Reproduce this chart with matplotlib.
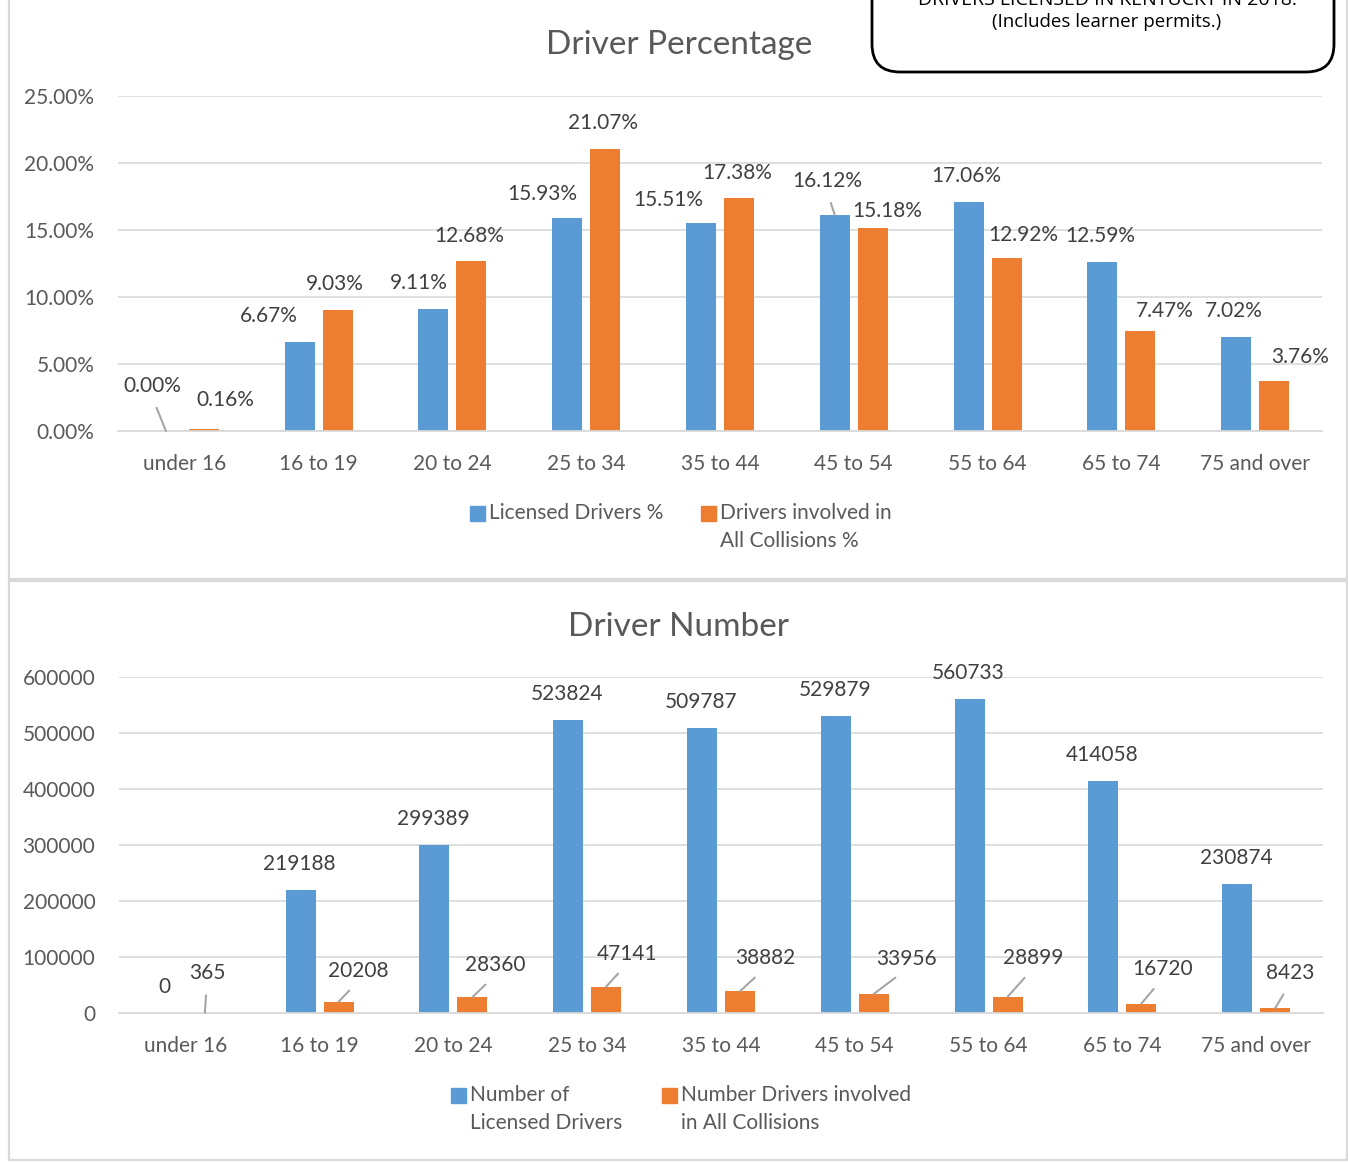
import matplotlib
matplotlib.use("Agg")
import matplotlib.pyplot as plt
import numpy as np
from matplotlib.patches import Rectangle, FancyBboxPatch

# ---------------- data ----------------
categories = ["under 16", "16 to 19", "20 to 24", "25 to 34", "35 to 44",
              "45 to 54", "55 to 64", "65 to 74", "75 and over"]
licensed_pct = [0.00, 6.67, 9.11, 15.93, 15.51, 16.12, 17.06, 12.59, 7.02]
collision_pct = [0.16, 9.03, 12.68, 21.07, 17.38, 15.18, 12.92, 7.47, 3.76]
licensed_num = [0, 219188, 299389, 523824, 509787, 529879, 560733, 414058, 230874]
collision_num = [365, 20208, 28360, 47141, 38882, 33956, 28899, 16720, 8423]
pct_ticks = [0, 5, 10, 15, 20, 25]
num_ticks = [0, 100000, 200000, 300000, 400000, 500000, 600000]

# label offsets (pixels) relative to bar top: (dx, dy, leader)
top_blue_off = [(-14, 45, True), (-31, 26, False), (-15, 26, False), (-25, 24, False),
                (-33, 23, False), (-8, 34, True), (-2, 26, False), (-2, 26, False), (-2, 26, False)]
top_orng_off = [(21, 29, False), (-3, 26, False), (-2, 25, False), (-2, 26, False),
                (-2, 25, False), (14, 17, False), (17, 23, False), (24, 20, False), (26, 24, False)]
bot_blue_off = [(-2, 26, False)] + [(-1, 26, False)] * 8
bot_orng_off = [(2, 40, True), (20, 31, True), (23, 32, True), (21, 33, True), (25, 33, True),
                (33, 35, True), (26, 39, True), (21, 35, True), (15, 35, True)]

BLUE = "#5B9BD5"
ORANGE = "#ED7D31"
GRID = "#D9D9D9"
TICK = "#595959"
LABEL = "#404040"
FONT = "Lato"
FS = 15

W, H = 1348, 1163
fig = plt.figure(figsize=(W / 100, H / 100), dpi=100)
fig.patch.set_facecolor("white")


def frac(x0, y0, x1, y1):
    """pixel box (top-left origin) -> figure fraction rect"""
    return [x0 / W, 1 - y1 / H, (x1 - x0) / W, (y1 - y0) / H]


x = np.arange(len(categories))
bw = 0.225
off = 0.142


def draw(ax, blue, orng, ylim, ticks, fmt, blue_off, orng_off):
    ax.set_xlim(-0.5, len(categories) - 0.5)
    ax.set_ylim(*ylim)
    ax.bar(x - off, blue, bw, color=BLUE, zorder=3)
    ax.bar(x + off, orng, bw, color=ORANGE, zorder=3)
    ax.set_yticks(ticks)
    ax.set_yticklabels([fmt(t) for t in ticks])
    ax.set_xticks(x)
    ax.set_xticklabels(categories)
    ax.tick_params(axis="both", length=0, labelsize=FS, labelcolor=TICK)
    ax.tick_params(axis="y", pad=17)
    ax.tick_params(axis="x", pad=16.5)
    for lab in ax.get_xticklabels() + ax.get_yticklabels():
        lab.set_fontfamily(FONT)
    ax.grid(axis="y", color=GRID, lw=1.2, zorder=0)
    ax.set_axisbelow(True)
    for s in ["top", "right", "left"]:
        ax.spines[s].set_visible(False)
    ax.spines["bottom"].set_color(GRID)
    ax.spines["bottom"].set_linewidth(1.3)
    ax.spines["bottom"].set_zorder(4)
    for vals, offs, xs in [(blue, blue_off, x - off), (orng, orng_off, x + off)]:
        for xi, v, (dx, dy, lead) in zip(xs, vals, offs):
            kw = dict(xy=(xi, v), xytext=(dx, dy), textcoords="offset pixels",
                      ha="center", va="center", fontsize=FS, color=LABEL,
                      fontfamily=FONT, annotation_clip=False, zorder=5)
            if lead:
                kw["arrowprops"] = dict(arrowstyle="-", color="#A6A6A6", lw=1.5,
                                        relpos=(0.5, 0.0), shrinkA=7, shrinkB=0)
            ax.annotate(fmt(v), **kw)


ax1 = fig.add_axes(frac(118, 96, 1322, 431))
draw(ax1, licensed_pct, collision_pct, (0, 25), pct_ticks, lambda v: f"{v:.2f}%",
     top_blue_off, top_orng_off)

ax2 = fig.add_axes(frac(119, 677, 1323, 1013))
draw(ax2, licensed_num, collision_num, (0, 600000), num_ticks, lambda v: f"{int(v)}",
     bot_blue_off, bot_orng_off)

# overlay in pixel coordinates for frames, titles, legends, note box
ov = fig.add_axes([0, 0, 1, 1], zorder=10)
ov.set_xlim(0, W)
ov.set_ylim(H, 0)
ov.axis("off")
ov.patch.set_visible(False)

ov.add_patch(Rectangle((9, -10), 1338, 589, fill=False, ec=GRID, lw=1.6))
ov.add_patch(Rectangle((9, 581), 1338, 579, fill=False, ec=GRID, lw=1.6))

ov.text(679, 45, "Driver Percentage", ha="center", va="center", fontsize=24,
        color=TICK, fontfamily=FONT)
ov.text(679, 627, "Driver Number", ha="center", va="center", fontsize=24,
        color=TICK, fontfamily=FONT)

# note box (partly cut at top, as in the source image)
ov.add_patch(FancyBboxPatch((872, -60), 462, 132, boxstyle="round,pad=0,rounding_size=28",
                            fc="white", ec="black", lw=2.0))
ov.text(1107, 0, "DRIVERS LICENSED IN KENTUCKY IN 2018.", ha="center", va="center",
        fontsize=14, color="black", fontfamily="Open Sans")
ov.text(1107, 22, "(Includes learner permits.)", ha="center", va="center",
        fontsize=13.5, color="black", fontfamily="Open Sans")


def legend_item(x0, y0, color, lines):
    ov.add_patch(Rectangle((x0, y0 - 7.5), 15, 15, color=color))
    for k, ln in enumerate(lines):
        ov.text(x0 + 19, y0 + 28 * k, ln, ha="left", va="center", fontsize=FS,
                color=TICK, fontfamily=FONT)


legend_item(470, 513, BLUE, ["Licensed Drivers %"])
legend_item(701, 513, ORANGE, ["Drivers involved in", "All Collisions %"])
legend_item(451, 1095, BLUE, ["Number of", "Licensed Drivers"])
legend_item(662, 1095, ORANGE, ["Number Drivers involved", "in All Collisions"])

fig.savefig("out.png", dpi=100, facecolor="white")
